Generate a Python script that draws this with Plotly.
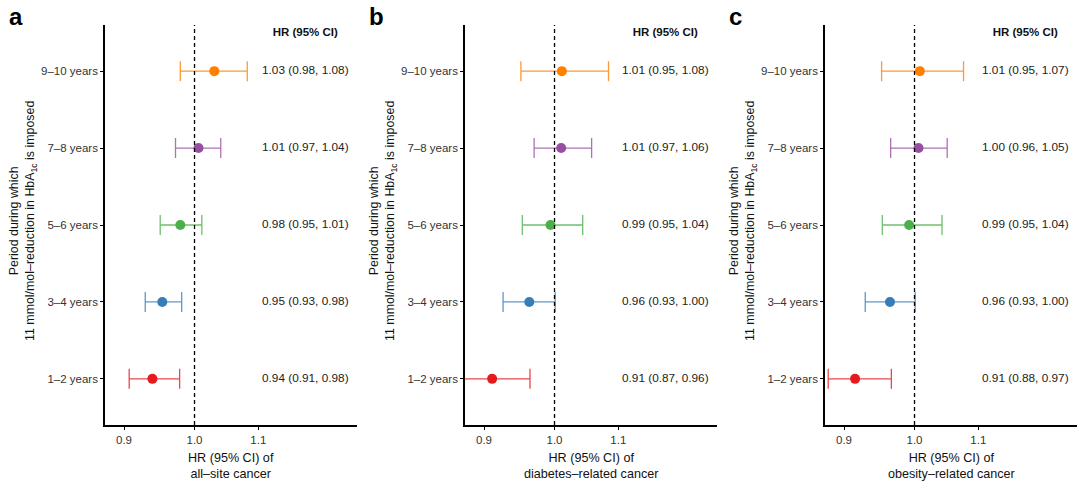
import plotly.graph_objects as go
import numpy as np

# 数据
periods = ["1–2 years", "3–4 years", "5–6 years", "7–8 years", "9–10 years"]
colors = ["#E41A1C", "#377EB8", "#4DAF4A", "#984EA3", "#FF7F00"]

hr_all = [0.939, 0.953, 0.979, 1.006, 1.030]
lo_all = [0.907, 0.929, 0.950, 0.972, 0.979]
hi_all = [0.978, 0.981, 1.011, 1.040, 1.082]
labels_all = ["0.94 (0.91, 0.98)", "0.95 (0.93, 0.98)", "0.98 (0.95, 1.01)",
              "1.01 (0.97, 1.04)", "1.03 (0.98, 1.08)"]

hr_diab = [0.911, 0.963, 0.994, 1.010, 1.011]
lo_diab = [0.870, 0.926, 0.953, 0.970, 0.951]
hi_diab = [0.964, 1.001, 1.043, 1.057, 1.084]
labels_diab = ["0.91 (0.87, 0.96)", "0.96 (0.93, 1.00)", "0.99 (0.95, 1.04)",
               "1.01 (0.97, 1.06)", "1.01 (0.95, 1.08)"]

hr_obes = [0.915, 0.964, 0.992, 1.006, 1.008]
lo_obes = [0.879, 0.929, 0.953, 0.965, 0.952]
hi_obes = [0.966, 1.001, 1.042, 1.050, 1.076]
labels_obes = ["0.91 (0.88, 0.97)", "0.96 (0.93, 1.00)", "0.99 (0.95, 1.04)",
               "1.00 (0.96, 1.05)", "1.01 (0.95, 1.07)"]

panel_letters = ["a", "b", "c"]
outcomes = ["all–site cancer", "diabetes–related cancer", "obesity–related cancer"]
x_ticks = [0.9, 1.0, 1.1]
header = "HR (95% CI)"

panels = [
    (hr_all, lo_all, hi_all, labels_all),
    (hr_diab, lo_diab, hi_diab, labels_diab),
    (hr_obes, lo_obes, hi_obes, labels_obes),
]

W, H = 1080, 483
FONT = "Liberation Sans, Arial, sans-serif"
rows = list(range(1, len(periods) + 1))
text_x = 1.18

# 每个面板在页面中的位置（像素）
panel_left = [105, 465, 825]
panel_width = 252
plot_top, plot_bottom = 25, 425


def fade(hex_color, alpha):
    # 误差线颜色稍微淡一点
    r, g, b = int(hex_color[1:3], 16), int(hex_color[3:5], 16), int(hex_color[5:7], 16)
    return f"rgba({r},{g},{b},{alpha})"


fig = go.Figure()
layout = dict(
    width=W, height=H,
    margin=dict(l=0, r=0, t=0, b=0),
    paper_bgcolor="white", plot_bgcolor="white",
    showlegend=False,
    font=dict(family=FONT, size=11.5, color="#222"),
    shapes=[], annotations=[],
)

for i, (hr, lo, hi, labels) in enumerate(panels):
    suffix = "" if i == 0 else str(i + 1)
    xa, ya = "x" + suffix, "y" + suffix

    for j in range(len(periods)):
        fig.add_trace(go.Scatter(
            x=[hr[j]], y=[rows[j]],
            mode="markers",
            marker=dict(color=colors[j], size=10),
            error_x=dict(type="data", symmetric=False,
                         array=[hi[j] - hr[j]], arrayminus=[hr[j] - lo[j]],
                         color=fade(colors[j], 0.8), thickness=1.3, width=10),
            xaxis=xa, yaxis=ya,
            hovertemplate=periods[j] + "<br>HR: %{x}<extra></extra>",
        ))

    # 右侧 HR (95% CI) 文本列
    fig.add_trace(go.Scatter(
        x=[text_x] * len(labels), y=rows,
        mode="text", text=labels, textposition="middle center",
        textfont=dict(family=FONT, size=11.8, color="#222"),
        xaxis=xa, yaxis=ya, hoverinfo="skip",
    ))
    fig.add_trace(go.Scatter(
        x=[text_x], y=[5.5],
        mode="text", text=["<b>" + header + "</b>"], textposition="middle center",
        textfont=dict(family=FONT, size=11.5, color="#111"),
        xaxis=xa, yaxis=ya, hoverinfo="skip",
    ))

    x0 = panel_left[i] / W
    x1 = (panel_left[i] + panel_width) / W
    y0 = 1 - plot_bottom / H
    y1 = 1 - plot_top / H

    layout["xaxis" + suffix] = dict(
        type="log", domain=[x0, x1], anchor=ya,
        range=[np.log10(0.8748), np.log10(1.2748)],
        tickvals=x_ticks, ticktext=[f"{v:.1f}" for v in x_ticks],
        ticks="outside", ticklen=3, tickwidth=1, tickcolor="black",
        showline=True, linecolor="black", linewidth=1.6,
        showgrid=False, zeroline=False,
        tickfont=dict(family=FONT, size=11.5, color="#333"),
    )
    layout["yaxis" + suffix] = dict(
        domain=[y0, y1], anchor=xa,
        range=[0.4, 5.6],
        tickvals=rows, ticktext=periods,
        ticks="outside", ticklen=3, tickwidth=1, tickcolor="black",
        showline=True, linecolor="black", linewidth=1.6,
        showgrid=False, zeroline=False,
        tickfont=dict(family=FONT, size=11.5, color="#333"),
    )

    # 参考线 HR = 1
    layout["shapes"].append(dict(
        type="line", xref=xa, yref=ya + " domain",
        x0=1.0, x1=1.0, y0=0, y1=1, layer="above",
        line=dict(color="black", width=1.3, dash="4px,3px"),
    ))

    # 面板字母
    layout["annotations"].append(dict(
        text="<b>" + panel_letters[i] + "</b>",
        xref="paper", yref="paper",
        x=(panel_left[i] - 98) / W, y=1 - 1 / H,
        xanchor="left", yanchor="top", showarrow=False,
        font=dict(family=FONT, size=24, color="black"),
    ))

    # y 轴标题
    layout["annotations"].append(dict(
        text="Period during which<br>11 mmol/mol–reduction in HbA<sub>1c</sub> is imposed",
        xref="paper", yref="paper",
        x=(panel_left[i] - 82) / W, y=1 - 221 / H,
        xanchor="center", yanchor="middle", textangle=-90, showarrow=False,
        font=dict(family=FONT, size=12.4, color="#111"),
    ))

    # x 轴标题
    layout["annotations"].append(dict(
        text="HR (95% CI) of<br>" + outcomes[i],
        xref="paper", yref="paper",
        x=(panel_left[i] + panel_width / 2) / W, y=1 - 466 / H,
        xanchor="center", yanchor="middle", showarrow=False,
        font=dict(family=FONT, size=12.6, color="#111"),
    ))

fig.update_layout(**layout)
# 去掉页面默认的 body 边距，让图从左上角开始
fig.write_html("out.html", config={"displayModeBar": False},
               post_script="document.body.style.margin='0';")
